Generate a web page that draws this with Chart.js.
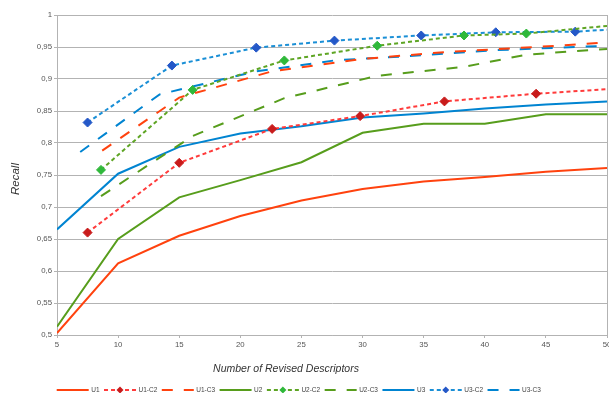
<!DOCTYPE html>
<html>
<head>
<meta charset="utf-8">
<script src="https://cdn.jsdelivr.net/npm/chart.js@4.4.1/dist/chart.umd.min.js"></script>
<style>
  html, body { margin: 0; padding: 0; background: #fff; }
</style>
</head>
<body>
<canvas id="recallChart" width="609" height="393"></canvas>
<script>
// tick values
const xTicks = [5, 10, 15, 20, 25, 30, 35, 40, 45, 50];
const yMin = 0.5, yMax = 1, yStep = 0.05;

// U series (solid), sampled every 5 descriptors
const uX = [5, 10, 15, 20, 25, 30, 35, 40, 45, 50];
const u1Y = [0.503, 0.612, 0.655, 0.686, 0.710, 0.728, 0.740, 0.747, 0.755, 0.761];
const u2Y = [0.513, 0.650, 0.715, 0.742, 0.770, 0.816, 0.830, 0.830, 0.845, 0.845];
const u3Y = [0.665, 0.752, 0.794, 0.815, 0.826, 0.840, 0.846, 0.854, 0.860, 0.865];

// C2 series (dotted, with markers) - last point is where the line leaves the plot
const u1c2X = [7.5, 15, 22.6, 29.8, 36.7, 44.2, 50];
const u1c2Y = [0.660, 0.769, 0.822, 0.842, 0.865, 0.877, 0.884];
const u2c2X = [8.6, 16.1, 23.6, 31.2, 38.3, 43.4, 50];
const u2c2Y = [0.758, 0.883, 0.929, 0.952, 0.968, 0.971, 0.983];
const u3c2X = [7.5, 14.4, 21.3, 27.7, 34.8, 40.9, 47.4, 50];
const u3c2Y = [0.832, 0.921, 0.949, 0.960, 0.968, 0.973, 0.974, 0.977];

// C3 series (dashed)
const u1c3X = [8.7, 15, 22.6, 29.8, 36.7, 44.2, 50];
const u1c3Y = [0.788, 0.871, 0.912, 0.931, 0.942, 0.950, 0.957];
const u2c3X = [8.6, 16.1, 23.6, 31.2, 38.3, 43.4, 50];
const u2c3Y = [0.717, 0.811, 0.870, 0.905, 0.919, 0.938, 0.947];
const u3c3X = [6.9, 13.4, 21.3, 27.7, 34.8, 40.9, 47.4, 50];
const u3c3Y = [0.786, 0.876, 0.912, 0.929, 0.937, 0.945, 0.950, 0.952];

const RED = '#ff420e', GREEN = '#579d1c', BLUE = '#0084d1';
const FONT = '"Liberation Sans", Arial, sans-serif';

function pts(xs, ys) {
    return xs.map((x, i) => ({x: x, y: ys[i]}));
}

function solid(label, xs, ys, color) {
    return {label: label, data: pts(xs, ys), borderColor: color, borderWidth: 2,
        pointRadius: 0, tension: 0};
}

function dotted(label, xs, ys, color, marker) {
    return {label: label, data: pts(xs, ys), borderColor: color, borderWidth: 2,
        borderDash: [4, 3], tension: 0, pointStyle: 'rectRot',
        // no marker on the point where the line runs off the plot
        pointRadius: c => c.dataIndex === c.dataset.data.length - 1 ? 0 : 4.5,
        pointBackgroundColor: marker, pointBorderColor: marker, pointBorderWidth: 1,
        markerColor: marker};
}

function dashed(label, xs, ys, color) {
    return {label: label, data: pts(xs, ys), borderColor: color, borderWidth: 2,
        borderDash: [11, 11], pointRadius: 0, tension: 0};
}

// axis titles + legend drawn as line samples (with marker for the C2 series)
const titlesAndLegend = {
    id: 'titlesAndLegend',
    afterDraw(chart) {
        const ctx = chart.ctx;
        const area = chart.chartArea;
        ctx.save();

        // axis titles
        ctx.fillStyle = '#333';
        ctx.textAlign = 'center';
        ctx.textBaseline = 'middle';
        ctx.font = 'italic 10.5px ' + FONT;
        ctx.fillText('Number of Revised Descriptors', 286, 369);
        ctx.save();
        ctx.translate(15.5, (area.top + area.bottom) / 2 + 4);
        ctx.rotate(-Math.PI / 2);
        ctx.font = 'italic 11.5px ' + FONT;
        ctx.fillText('Recall', 0, 0);
        ctx.restore();

        // legend
        const sets = chart.data.datasets;
        const y = 390, sampleW = 32, textGap = 2.5, itemGap = 4.5;
        ctx.font = '6.5px ' + FONT;
        ctx.textAlign = 'left';
        let x = 56.7;
        sets.forEach(ds => {
            ctx.strokeStyle = ds.borderColor;
            ctx.lineWidth = ds.borderWidth;
            ctx.setLineDash(ds.borderDash || []);
            ctx.beginPath();
            ctx.moveTo(x, y);
            ctx.lineTo(x + sampleW, y);
            ctx.stroke();
            ctx.setLineDash([]);
            if (ds.markerColor) {
                const cx = x + sampleW / 2, r = 3.5;
                ctx.fillStyle = ds.markerColor;
                ctx.beginPath();
                ctx.moveTo(cx, y - r);
                ctx.lineTo(cx + r, y);
                ctx.lineTo(cx, y + r);
                ctx.lineTo(cx - r, y);
                ctx.closePath();
                ctx.fill();
            }
            x += sampleW + textGap;
            ctx.fillStyle = '#444';
            ctx.fillText(ds.label, x, y);
            x += ctx.measureText(ds.label).width + itemGap;
        });
        ctx.restore();
    }
};

new Chart(document.getElementById('recallChart'), {
    type: 'line',
    data: {
        datasets: [
            solid('U1', uX, u1Y, RED),
            dotted('U1-C2', u1c2X, u1c2Y, '#ff3b3b', '#c81b1b'),
            dashed('U1-C3', u1c3X, u1c3Y, RED),
            solid('U2', uX, u2Y, GREEN),
            dotted('U2-C2', u2c2X, u2c2Y, '#5ea524', '#2fb83a'),
            dashed('U2-C3', u2c3X, u2c3Y, GREEN),
            solid('U3', uX, u3Y, BLUE),
            dotted('U3-C2', u3c2X, u3c2Y, '#1a8fd6', '#2458c8'),
            dashed('U3-C3', u3c3X, u3c3Y, BLUE)
        ]
    },
    options: {
        responsive: false,
        animation: false,
        layout: {autoPadding: false, padding: {top: 15, right: 1, bottom: 0, left: 0}},
        plugins: {legend: {display: false}, tooltip: {enabled: false}},
        scales: {
            x: {
                type: 'linear',
                min: xTicks[0],
                max: xTicks[xTicks.length - 1],
                afterBuildTicks: s => { s.ticks = xTicks.map(v => ({value: v})); },
                afterFit: s => { s.height = 58; s.paddingLeft = 0; s.paddingRight = 0; },
                grid: {drawOnChartArea: false, drawTicks: true, tickLength: 3, color: '#b3b3b3'},
                border: {color: '#b3b3b3'},
                ticks: {color: '#555', padding: 2, maxRotation: 0, font: {family: FONT, size: 7.8}}
            },
            y: {
                min: yMin,
                max: yMax,
                afterFit: s => { s.width = 57; s.paddingTop = 0; s.paddingBottom = 0; },
                grid: {color: '#b3b3b3', tickLength: 3},
                border: {color: '#b3b3b3'},
                ticks: {
                    stepSize: yStep, color: '#555', padding: 2,
                    font: {family: FONT, size: 7.8},
                    callback: v => String(Math.round(v * 100) / 100).replace('.', ',')
                }
            },
            y2: {
                position: 'right',
                min: yMin,
                max: yMax,
                afterFit: s => { s.width = 1; },
                grid: {display: false},
                border: {display: true, color: '#b3b3b3'},
                ticks: {display: false}
            }
        }
    },
    plugins: [titlesAndLegend]
});
</script>
</body>
</html>
